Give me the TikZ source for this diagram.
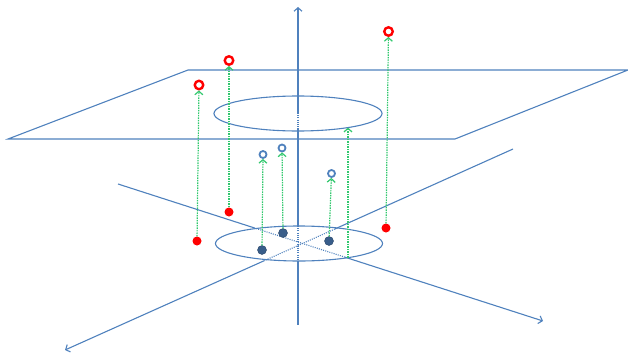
\documentclass[tikz,border=0pt]{standalone}
\usepackage{xcolor}
\usepackage{tikz}
\usetikzlibrary{arrows.meta,calc}

\definecolor{axisblue}{RGB}{79,129,189}
\definecolor{dotblue}{RGB}{56,93,138}
\definecolor{liftgreen}{RGB}{50,200,110}

\begin{document}
\begin{tikzpicture}[x=1pt, y=-1pt, >={Straight Barb[length=3.5pt,width=8pt]},
    axis/.style={draw=axisblue, line width=1.1pt},
    hidden/.style={axis, dash pattern=on 1pt off 1.2pt},
    lift/.style={draw=liftgreen, line width=1.2pt, dash pattern=on 1.5pt off 1pt,
        -{Straight Barb[length=3.5pt,width=8pt]}},
    reddot/.style={circle, fill=red, minimum size=9pt, inner sep=0pt},
    redring/.style={circle, draw=red, line width=2.4pt, minimum size=8.5pt, inner sep=0pt},
    bluedot/.style={circle, fill=dotblue, draw=dotblue!75!black, minimum size=9pt, inner sep=0pt},
    bluering/.style={circle, draw=axisblue, line width=1.8pt, minimum size=7pt, inner sep=0pt}]
    \useasboundingbox (0,0) rectangle (628,353);

    % plane
    \coordinate (pfl) at (8,139);
    \coordinate (pfr) at (455,139);
    \coordinate (pbr) at (628,70);
    \coordinate (pbl) at (188,70);
    \draw[axis] (pfl) -- (pfr) -- (pbr) -- (pbl) -- cycle;

    % ellipses
    \coordinate (top) at (298,113.5);
    \coordinate (base) at (299,243.5);
    \draw[axis] (top) ellipse [x radius=84, y radius=17.5];
    \draw[axis] (base) ellipse [x radius=83.5, y radius=17.5];

    % vertical axis
    \coordinate (zhi) at (298,7);
    \coordinate (za) at (298,113);
    \coordinate (zb) at (298,128);
    \coordinate (zc) at (298,226);
    \coordinate (zd) at (298,261);
    \coordinate (zlo) at (298,325);
    \draw[axis, <-] (zhi) -- (za);
    \draw[hidden] (za) -- (zb);
    \draw[axis] (zb) -- (zc);
    \draw[hidden] (zc) -- (zd);
    \draw[axis] (zd) -- (zlo);

    % first ground axis
    \coordinate (xa) at (118,184);
    \coordinate (xb) at (254,227.8);
    \coordinate (xc) at (345,257.2);
    \coordinate (xd) at (543,321);
    \draw[axis] (xa) -- (xb);
    \draw[hidden] (xb) -- (xc);
    \draw[axis, ->] (xc) -- (xd);

    % second ground axis
    \coordinate (ya) at (513,149);
    \coordinate (yb) at (334.8,229);
    \coordinate (yc) at (264.2,260.7);
    \coordinate (yd) at (65,350);
    \draw[axis] (ya) -- (yb);
    \draw[hidden] (yb) -- (yc);
    \draw[axis, ->] (yc) -- (yd);

    % lifted points
    \node[reddot] (r1) at (197,241) {};
    \node[reddot] (r2) at (229,212) {};
    \node[reddot] (r3) at (386,228) {};
    \node[redring] (R1) at (199,85) {};
    \node[redring] (R2) at (229,60.5) {};
    \node[redring] (R3) at (388.5,31.5) {};
    \node[bluedot] (b1) at (262,250) {};
    \node[bluedot] (b2) at (283,233) {};
    \node[bluedot] (b3) at (329,241) {};
    \node[bluering] (B1) at (263,154.5) {};
    \node[bluering] (B2) at (282,148) {};
    \node[bluering] (B3) at (331.5,173.5) {};
    \coordinate (rim) at (348,257.7);
    \coordinate (lid) at (348,127.6);

    \draw[lift] (r1) -- (R1);
    \draw[lift] (r2) -- (R2);
    \draw[lift] (r3) -- (R3);
    \draw[lift] (b1) -- (B1);
    \draw[lift] (b2) -- (B2);
    \draw[lift] (b3) -- (B3);
    \draw[lift] (rim) -- (lid);
\end{tikzpicture}
\end{document}
